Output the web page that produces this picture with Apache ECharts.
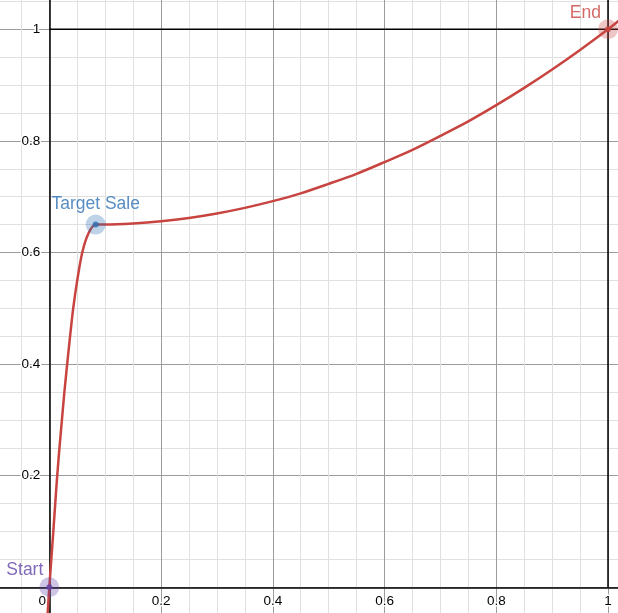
<!DOCTYPE html>
<html>
<head>
<meta charset="utf-8">
<script src="https://cdn.jsdelivr.net/npm/echarts@6/dist/echarts.min.js"></script>
<style>
html,body{margin:0;padding:0;background:#fff;}
#chart{width:618px;height:613px;}
</style>
</head>
<body>
<div id="chart"></div>
<script>
// ---- data ----
const curveX = [-0.003, 0, 0.0036, 0.0072, 0.0106, 0.0142, 0.0182, 0.0226, 0.0270, 0.0320, 0.0372, 0.0428, 0.0500, 0.0590, 0.0700, 0.0830,
  0.10, 0.15, 0.20, 0.25, 0.30, 0.35, 0.40, 0.45, 0.50, 0.55, 0.60, 0.65, 0.70, 0.75, 0.80, 0.85, 0.90, 0.95, 1.00, 1.03];
const curveY = [-0.047, 0, 0.05, 0.10, 0.15, 0.20, 0.25, 0.30, 0.35, 0.40, 0.45, 0.50, 0.55, 0.60, 0.634, 0.650,
  0.650, 0.652, 0.656, 0.662, 0.670, 0.680, 0.692, 0.706, 0.723, 0.741, 0.762, 0.784, 0.809, 0.835, 0.864, 0.895, 0.928, 0.963, 1.000, 1.024];

const pointNames = ['Start', 'Target Sale', 'End'];
const pointX = [0, 0.083, 1];
const pointY = [0, 0.650, 1];

const boxTopX = [0, 1.2];
const boxTopY = [1, 1];
const boxRightX = [1, 1];
const boxRightY = [0, 1.2];

const xTickLabels = [0.2, 0.4, 0.6, 0.8, 1];
const yTickLabels = [0.2, 0.4, 0.6, 0.8, 1];
const originLabel = '0';

// ---- styling ----
const pointColors = ['#6042a6', '#2d70b3', '#c74440'];
const haloColors = ['rgba(96,66,166,0.38)', 'rgba(45,112,179,0.38)', 'rgba(199,68,64,0.38)'];
const labelPos = [
  {position: [4, -7], align: 'right', verticalAlign: 'middle'},
  {position: 'top', distance: 1},
  {position: [3, -6], align: 'right', verticalAlign: 'middle'}
];

const chart = echarts.init(document.getElementById('chart'), null, {renderer: 'canvas'});

const axisLabelStyle = {
  color: '#000',
  fontSize: 13.5,
  fontFamily: 'Liberation Sans, Arial, sans-serif',
  textBorderColor: '#fff',
  textBorderWidth: 3
};

function inList(list, v) {
  return list.some(t => Math.abs(t - v) < 1e-9);
}

const series = [];
series.push({
  type: 'line', name: 'boxTop', data: boxTopX.map((x, i) => [x, boxTopY[i]]),
  showSymbol: false, silent: true, z: 2,
  lineStyle: {color: '#000', width: 1.5}
});
series.push({
  type: 'line', name: 'boxRight', data: boxRightX.map((x, i) => [x, boxRightY[i]]),
  showSymbol: false, silent: true, z: 2,
  lineStyle: {color: '#000', width: 1.5}
});
series.push({
  type: 'line', name: 'curve', data: curveX.map((x, i) => [x, curveY[i]]),
  showSymbol: false, smooth: 0.3, silent: true, z: 3,
  lineStyle: {color: '#c74440', width: 2.5}
});
pointNames.forEach((n, i) => {
  series.push({
    type: 'scatter', name: n + ' halo', data: [[pointX[i], pointY[i]]],
    symbolSize: 20, z: 4, silent: true,
    itemStyle: {color: haloColors[i]},
    label: Object.assign({
      show: true, formatter: n, color: pointColors[i], fontSize: 17.5,
      fontFamily: 'Liberation Sans, Arial, sans-serif'
    }, labelPos[i])
  });
  series.push({
    type: 'scatter', name: n, data: [[pointX[i], pointY[i]]],
    symbolSize: 6, z: 5, silent: true,
    itemStyle: {color: pointColors[i]}
  });
});

const xPx0 = 49.3, xUnit = 558.7;
const yPx0 = 587.3, yUnit = 558;
const gridLeft = xPx0 - 0.2 * xUnit;
const gridTop = yPx0 - 1.2 * yUnit;
const gridW = 1.4 * xUnit;
const gridH = 1.4 * yUnit;
const gridBottomPx = gridTop + gridH;

chart.setOption({
  animation: false,
  backgroundColor: '#fff',
  grid: {
    left: gridLeft,
    width: gridW,
    top: gridTop,
    height: gridH,
    containLabel: false,
    outerBoundsMode: 'none'
  },
  xAxis: {
    type: 'value', min: -0.2, max: 1.2, interval: 0.2,
    position: 'bottom',
    offset: -(gridBottomPx - yPx0),
    axisLine: {show: true, onZero: false, lineStyle: {color: '#000', width: 1.5}},
    axisTick: {show: false},
    minorTick: {show: false, splitNumber: 4},
    splitLine: {show: true, lineStyle: {color: '#9c9c9c', width: 1}},
    minorSplitLine: {show: true, lineStyle: {color: '#e0e0e0', width: 1}},
    axisLabel: Object.assign({
      margin: 7, showMinLabel: true, showMaxLabel: true, hideOverlap: false,
      formatter: v => inList(xTickLabels, v) ? String(Math.round(v * 10) / 10) : ''
    }, axisLabelStyle)
  },
  yAxis: {
    type: 'value', min: -0.2, max: 1.2, interval: 0.2,
    position: 'left',
    offset: -(xPx0 - gridLeft),
    axisLine: {show: true, onZero: false, lineStyle: {color: '#000', width: 1.5}},
    axisTick: {show: false},
    minorTick: {show: false, splitNumber: 4},
    splitLine: {show: true, lineStyle: {color: '#9c9c9c', width: 1}},
    minorSplitLine: {show: true, lineStyle: {color: '#e0e0e0', width: 1}},
    axisLabel: Object.assign({
      margin: 9, showMinLabel: true, showMaxLabel: true, hideOverlap: false,
      formatter: v => inList(yTickLabels, v) ? String(Math.round(v * 10) / 10) : ''
    }, axisLabelStyle)
  },
  graphic: [{
    type: 'text', left: 37, top: 593, z: 10,
    style: {text: originLabel, fill: '#000', stroke: '#fff', lineWidth: 3,
      font: '13.5px Liberation Sans, Arial, sans-serif'}
  }],
  series: series
});
</script>
</body>
</html>
